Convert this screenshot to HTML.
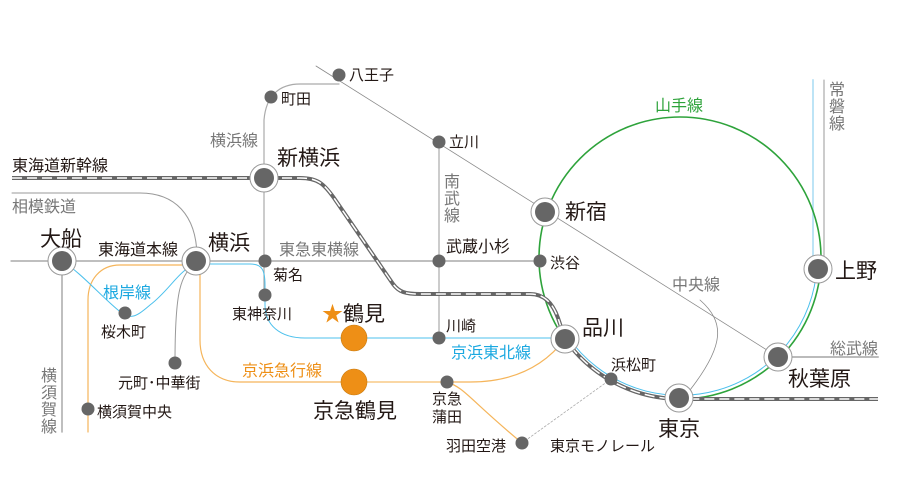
<!DOCTYPE html>
<html><head><meta charset="utf-8"><style>
html,body{margin:0;padding:0;background:#fff;}
svg{display:block;}
text{font-family:"Liberation Sans","Noto Sans CJK JP",sans-serif;fill:#231815;}
.g{fill:#777;}
.s{font-size:15px;}
.b{font-size:21px;}
.m{font-size:16px;}
</style></head><body>
<svg width="900" height="499" viewBox="0 0 900 499" xmlns="http://www.w3.org/2000/svg">
<g fill="none" stroke-linecap="round">
<path d="M11 261 H540" stroke="#999" stroke-width="1.2"/>
<path d="M12 193 H140 C175 193 196 215 197 255" stroke="#999" stroke-width="1"/>
<path d="M62 261 V432" stroke="#aaa" stroke-width="1.5"/>
<path d="M197 262 C180 275 175 290 175 363" stroke="#999" stroke-width="1"/>
<path d="M264 295 V120 C266 95 280 84 300 84 H339" stroke="#aaa" stroke-width="1.2"/>
<path d="M316 66 L778 357" stroke="#888" stroke-width="0.8"/>
<path d="M700 300 C725 322 725 345 690 390" stroke="#888" stroke-width="0.8"/>
<path d="M439 142 V338" stroke="#999" stroke-width="1"/>
<path d="M778 357 H878" stroke="#bbb" stroke-width="2"/>
<path d="M824 80 V268" stroke="#999" stroke-width="1"/>
<path d="M813 80 V262" stroke="#bde4f6" stroke-width="2"/>
<path d="M611 379 L522 443" stroke="#aaa" stroke-width="0.8" stroke-dasharray="2 2"/>
<circle cx="680" cy="258" r="141" stroke="#2ea33b" stroke-width="1.6"/>
<path d="M197 265 H120 C100 265 88 280 88 300 V432" stroke="#f5b55b" stroke-width="1.2"/>
<path d="M200 268 V340 C200 365 215 382 240 382 H354" stroke="#f5b55b" stroke-width="1.2"/>
<path d="M354 382 H447" stroke="#fad7a4" stroke-width="2"/>
<path d="M447 382 H470 C515 382 545 365 565 339" stroke="#f5b55b" stroke-width="1.2"/>
<path d="M447 382 C465 388 470 400 522 443" stroke="#f5b55b" stroke-width="1.2"/>
<path d="M62 261 C80 272 100 295 118 310 C130 320 135 318 150 305 C170 290 180 268 197 264" stroke="#4cc0ec" stroke-width="1"/>
<path d="M200 264 H250 C262 264 265 270 265 285 V305 C265 325 280 338 305 338 H565" stroke="#4cc0ec" stroke-width="1"/>
<path d="M568 337 A137 137 0 0 0 817 266" stroke="#4cc0ec" stroke-width="1"/>
<path d="M12 178 H300 C318 178 324 184 334 198 L393 284 C399 292 405 294 420 294 H530 C545 294 553 304 558 318 L565 339 A141 141 0 0 0 680 399 H878" stroke="#666" stroke-width="4" stroke-linecap="butt"/>
<path d="M12 178 H300 C318 178 324 184 334 198 L393 284 C399 292 405 294 420 294 H530 C545 294 553 304 558 318 L565 339 A141 141 0 0 0 680 399 H878" stroke="#fff" stroke-width="1.5" stroke-dasharray="10 5" stroke-linecap="butt"/>
</g>
<g stroke="#999" stroke-width="1" fill="#fff">
<circle cx="62" cy="261" r="14"/><circle cx="196" cy="261" r="14"/><circle cx="264" cy="178" r="14"/>
<circle cx="545" cy="212" r="14"/><circle cx="565" cy="339" r="14"/><circle cx="679" cy="398" r="14"/>
<circle cx="778" cy="357" r="14"/><circle cx="818" cy="269" r="14"/>
</g>
<g fill="#666">
<circle cx="62" cy="261" r="10"/><circle cx="196" cy="261" r="10"/><circle cx="264" cy="178" r="10"/>
<circle cx="545" cy="212" r="10"/><circle cx="565" cy="339" r="10"/><circle cx="679" cy="398" r="10"/>
<circle cx="778" cy="357" r="10"/><circle cx="818" cy="269" r="10"/>
<circle cx="125" cy="313" r="6.5"/><circle cx="175" cy="363" r="6.5"/><circle cx="88" cy="409" r="6.5"/>
<circle cx="265" cy="261" r="6.5"/><circle cx="265" cy="295" r="6.5"/><circle cx="271" cy="97" r="6.5"/>
<circle cx="339" cy="75" r="6.5"/><circle cx="439" cy="142" r="6.5"/><circle cx="439" cy="261" r="6.5"/>
<circle cx="540" cy="261" r="6.5"/><circle cx="439" cy="338" r="6.5"/><circle cx="447" cy="382" r="6.5"/>
<circle cx="611" cy="379" r="6.5"/><circle cx="522" cy="443" r="6.5"/>
</g>
<circle cx="354" cy="338" r="13" fill="#ee8f16" stroke="#c77a10" stroke-width="0.6"/>
<circle cx="354" cy="382" r="13" fill="#ee8f16" stroke="#c77a10" stroke-width="0.6"/>
<text class="s" x="349" y="80">八王子</text>
<text class="s" x="281" y="104">町田</text>
<text class="m g" x="210" y="146">横浜線</text>
<text class="b" x="277" y="165">新横浜</text>
<text class="s" x="449" y="147">立川</text>
<text class="m" x="12" y="171">東海道新幹線</text>
<text class="m g" x="12" y="212">相模鉄道</text>
<text class="b" x="40" y="246">大船</text>
<text class="m" x="98" y="255">東海道本線</text>
<text class="b" x="208" y="250">横浜</text>
<text class="m g" x="279" y="255">東急東横線</text>
<text class="s" x="273" y="280">菊名</text>
<text class="s" x="232" y="319">東神奈川</text>
<text class="m" x="103" y="298" style="fill:#1ba8e0">根岸線</text>
<text class="s" x="101" y="337">桜木町</text>
<text class="b" x="322" y="321"><tspan style="fill:#ee8f16">★</tspan>鶴見</text>
<text class="s" x="446" y="331">川崎</text>
<text class="m" x="451" y="358" style="fill:#1ba8e0">京浜東北線</text>
<text class="b" x="582" y="335">品川</text>
<text class="s" x="611" y="370">浜松町</text>
<text class="s" x="118" y="388">元町･中華街</text>
<text class="m" x="242" y="376" style="fill:#ee8f16">京浜急行線</text>
<text class="b" x="313" y="418">京急鶴見</text>
<text class="s" x="432" y="404">京急</text>
<text class="s" x="432" y="422">蒲田</text>
<text class="s" x="97" y="417">横須賀中央</text>
<text class="m g" x="41" y="381">横</text><text class="m g" x="41" y="398">須</text><text class="m g" x="41" y="415">賀</text><text class="m g" x="41" y="432">線</text>
<text class="m g" x="444" y="187">南</text><text class="m g" x="444" y="204">武</text><text class="m g" x="444" y="221">線</text>
<text class="m g" x="829" y="95">常</text><text class="m g" x="829" y="112">磐</text><text class="m g" x="829" y="129">線</text>
<text class="m" x="655" y="111" style="fill:#2ea33b">山手線</text>
<text class="b" x="565" y="219">新宿</text>
<text class="s" x="550" y="268">渋谷</text>
<text class="m" x="446" y="252">武蔵小杉</text>
<text class="m g" x="672" y="290">中央線</text>
<text class="b" x="835" y="278">上野</text>
<text class="m g" x="830" y="354">総武線</text>
<text class="b" x="788" y="386">秋葉原</text>
<text class="b" x="658" y="436">東京</text>
<text class="s" x="446" y="451">羽田空港</text>
<text class="s" x="550" y="451">東京モノレール</text>
</svg>
</body></html>
